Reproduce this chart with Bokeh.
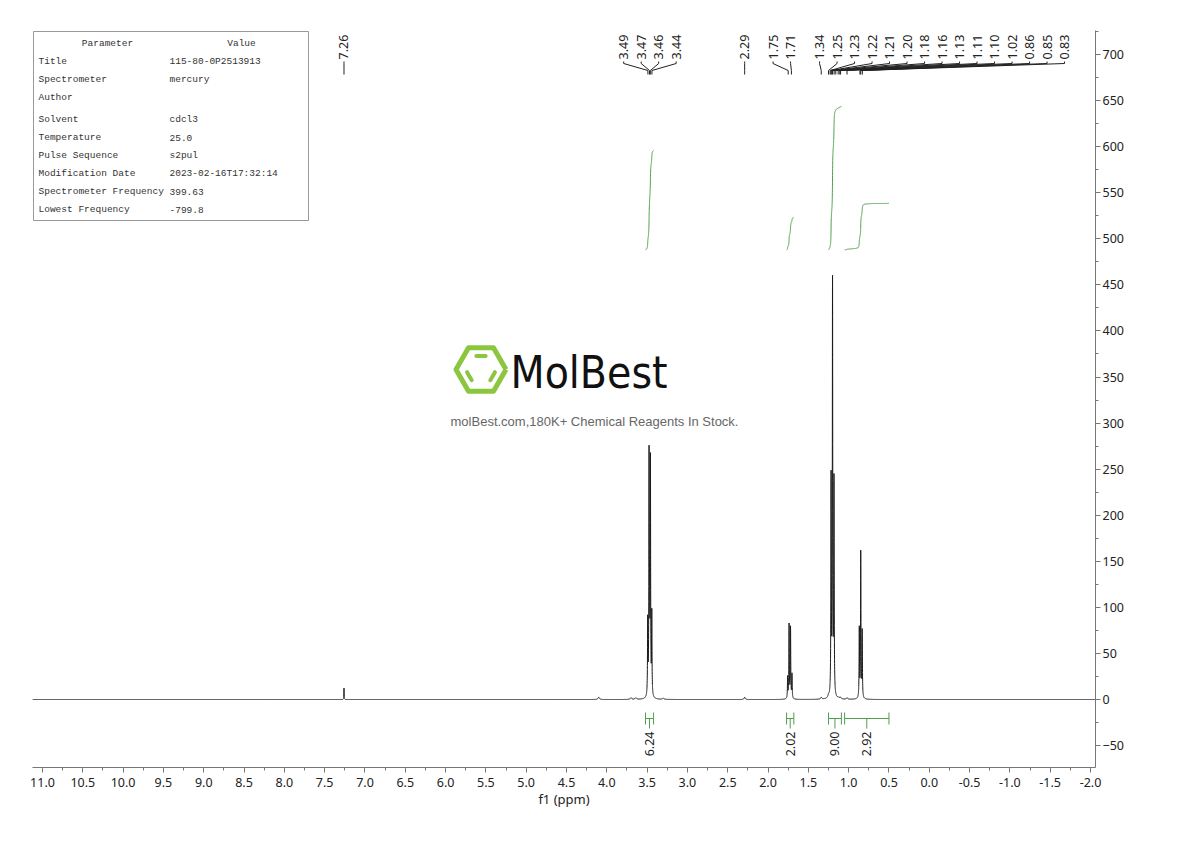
import numpy as np
from bokeh.plotting import figure
from bokeh.models import Range1d, SingleIntervalTicker, PrintfTickFormatter
from bokeh.core.properties import value
from bokeh.embed import file_html
from bokeh.resources import INLINE

# ---------------- data ----------------
# peak table of the 1H spectrum: shift (ppm), observed height, half width (ppm)
peak_ppm = [7.26, 4.10, 3.70, 3.64, 3.4925, 3.476, 3.470, 3.459, 3.442, 3.30, 2.29,
            1.757, 1.739, 1.721, 1.703, 1.34, 1.25, 1.23, 1.218, 1.200, 1.182,
            1.16, 1.13, 1.11, 1.10, 1.02, 0.868, 0.850, 0.832]
peak_height = [12.5, 2.5, 2.0, 2.0, 92, 276, 143, 268, 99, 1.5, 2.5,
               26, 83, 80, 29, 2.5, 6, 10, 247, 460, 245,
               6, 3, 2.5, 2.5, 2.0, 80, 162, 77]
peak_hwhm = [0.002, 0.01, 0.01, 0.01, 0.003, 0.003, 0.003, 0.003, 0.003, 0.01, 0.008,
             0.003, 0.003, 0.003, 0.003, 0.008, 0.008, 0.006, 0.003, 0.003, 0.003,
             0.006, 0.008, 0.008, 0.008, 0.008, 0.003, 0.003, 0.003]

# peak labels (top), grouped as in the picture
label_groups = [["7.26"], ["3.49", "3.47", "3.46", "3.44"], ["2.29"], ["1.75", "1.71"],
                ["1.34", "1.25", "1.23", "1.22", "1.21", "1.20", "1.18", "1.16", "1.13",
                 "1.11", "1.10", "1.02", "0.86", "0.85", "0.83"]]

# integrals: range start/end (ppm) and value
int_from = [3.52, 1.77, 1.25, 1.05]
int_to = [3.42, 1.68, 1.09, 0.50]
int_value = [6.24, 2.02, 9.00, 2.92]

# parameter table
param_names = ["Title", "Spectrometer", "Author", "Solvent", "Temperature", "Pulse Sequence",
               "Modification Date", "Spectrometer Frequency", "Lowest Frequency"]
param_values = ["115-80-0P2513913", "mercury", "", "cdcl3", "25.0", "s2pul",
                "2023-02-16T17:32:14", "399.63", "-799.8"]

# ---------------- layout helpers ----------------
FRAME_W, FRAME_H = 1063, 737
X_START, X_END = 11.124, -2.062
Y_START, Y_END = -73.8, 726.1
PX_PER_PPM = FRAME_W / (X_START - X_END)


def px2x(px):
    return X_START + (X_END - X_START) * px / FRAME_W


def py2y(py):
    return Y_END - (Y_END - Y_START) * py / FRAME_H


def ppm2px(v):
    return (X_START - v) * PX_PER_PPM


# ---------------- spectrum from the peak table ----------------
pc = np.array(peak_ppm)
ph = np.array(peak_height, dtype=float)
pw = np.array(peak_hwhm)
L = pw[None, :] ** 2 / ((pc[:, None] - pc[None, :]) ** 2 + pw[None, :] ** 2)
amp = np.clip(np.linalg.solve(L, ph), 0, None)

xs = np.unique(np.concatenate([np.arange(X_END, X_START, 0.0005), pc]))[::-1]
spec = np.zeros_like(xs)
for c, a, w in zip(pc, amp, pw):
    spec += a * w ** 2 / ((xs - c) ** 2 + w ** 2)

FONT = value("Noto Sans")
TXT = "#222222"
GREEN = "#4e9f4e"

p = figure(frame_width=FRAME_W, frame_height=FRAME_H,
           x_range=Range1d(X_START, X_END), y_range=Range1d(Y_START, Y_END),
           y_axis_location="right", output_backend="svg", toolbar_location=None,
           min_border_left=32, min_border_top=30, min_border_right=10, min_border_bottom=4)
p.outline_line_color = None
p.grid.visible = False

for ax in (p.xaxis, p.yaxis):
    ax.axis_line_color = "#777777"
    ax.major_tick_line_color = "#777777"
    ax.minor_tick_line_color = "#777777"
    ax.major_tick_in = 0
    ax.major_tick_out = 5
    ax.minor_tick_in = 0
    ax.minor_tick_out = 3
    ax.major_label_text_font = "Noto Sans"
    ax.major_label_text_font_size = "12.5px"
    ax.major_label_text_color = TXT

p.xaxis.ticker = SingleIntervalTicker(interval=0.5, num_minor_ticks=2)
p.xaxis.formatter = PrintfTickFormatter(format="%.1f")
p.xaxis.major_label_standoff = 5
p.xaxis.axis_label = "f1 (ppm)"
p.xaxis.axis_label_text_font = "Noto Sans"
p.xaxis.axis_label_text_font_size = "13px"
p.xaxis.axis_label_text_font_style = "normal"
p.xaxis.axis_label_text_color = TXT
p.xaxis.axis_label_standoff = 0
p.yaxis.ticker = SingleIntervalTicker(interval=50, num_minor_ticks=2)
p.yaxis.major_label_standoff = 2

# spectrum
p.line(xs, spec, line_color="#1a1a1a", line_width=1)

# integral curves
K_INT = 17.3
BASE = 488
for a, b, v in zip(int_from, int_to, int_value):
    m = (xs <= a) & (xs >= b)
    seg_x = xs[m]
    cum = np.cumsum(spec[m])
    p.line(seg_x, BASE + cum / cum[-1] * v * K_INT, line_color=GREEN, line_width=1)

# integral bars at the bottom
y_bar, y_cap0, y_cap1, y_tick = py2y(688), py2y(682), py2y(694), py2y(698)
bar_xs, bar_ys = [], []
for a, b in zip(int_from, int_to):
    mid = (a + b) / 2
    bar_xs += [[a, b], [a, a], [b, b], [mid, mid]]
    bar_ys += [[y_bar, y_bar], [y_cap0, y_cap1], [y_cap0, y_cap1], [y_bar, y_tick]]
p.multi_line(bar_xs, bar_ys, line_color=GREEN, line_width=1)
p.text(x=[(a + b) / 2 for a, b in zip(int_from, int_to)], y=[py2y(701)] * len(int_value),
       text=[f"{v:.2f}" for v in int_value], angle=np.pi / 2, text_align="right",
       text_baseline="middle", text_font=FONT, text_font_size="12.5px", text_color=TXT)

# peak labels at the top
SP = 17.5
GROUP_GAP = 21
SHIFT_BACK = 8  # a group squeezed by the next one moves a little to the left
lab_px, lab_txt, lab_val, lab_grp = [], [], [], []
prev = -1e9
for gi, g in enumerate(label_groups):
    vals = [float(s) for s in g]
    c = np.mean([ppm2px(v) for v in vals])
    n = len(vals)
    for i, (s, v) in enumerate(zip(g, vals)):
        ideal = c + (i - (n - 1) / 2) * SP
        gap = GROUP_GAP if i == 0 else SP
        pos = max(ideal, prev + gap)
        if i == 0 and pos > ideal + 2 * SP and lab_grp:
            for j in range(len(lab_px)):
                if lab_grp[j] == gi - 1:
                    lab_px[j] -= SHIFT_BACK
        lab_px.append(pos)
        lab_txt.append(s)
        lab_val.append(v)
        lab_grp.append(gi)
        prev = pos

con_xs, con_ys = [], []
for lp, v in zip(lab_px, lab_val):
    lx = px2x(lp)
    con_xs.append([lx, lx, v, v])
    con_ys.append([py2y(31), py2y(33), py2y(40), py2y(44)])
p.multi_line(con_xs, con_ys, line_color="#222222", line_width=1)
p.text(x=[px2x(lp) for lp in lab_px], y=[py2y(29)] * len(lab_px), text=lab_txt,
       angle=np.pi / 2, text_align="left", text_baseline="middle", text_font=FONT,
       text_font_size="12.5px", text_color=TXT)

# parameter table
p.quad(left=[px2x(1)], right=[px2x(276)], top=[py2y(1)], bottom=[py2y(190)],
       fill_color="white", line_color="#999999", line_width=1)
row_py = []
yy = 31
for i in range(len(param_names)):
    row_py.append(yy)
    yy += 22 if i == 2 else 18
TFONT = value("Liberation Mono")
TSIZE = "9.5px"
p.text(x=[px2x(75), px2x(209)], y=[py2y(13)] * 2, text=["Parameter", "Value"],
       text_align="center", text_baseline="middle", text_font=TFONT,
       text_font_size=TSIZE, text_color="#333333")
p.text(x=[px2x(6)] * len(param_names), y=[py2y(r) for r in row_py], text=param_names,
       text_align="left", text_baseline="middle", text_font=TFONT,
       text_font_size=TSIZE, text_color="#333333")
p.text(x=[px2x(137)] * len(param_values), y=[py2y(r) for r in row_py], text=param_values,
       text_align="left", text_baseline="middle", text_font=TFONT,
       text_font_size=TSIZE, text_color="#333333")

# watermark logo
cx, cy, R = 448.5, 339.0, 25.0
ang = np.deg2rad(np.arange(0, 361, 60))
p.line([px2x(cx + R * np.cos(t)) for t in ang], [py2y(cy - R * np.sin(t)) for t in ang],
       line_color="#8cc63f", line_width=5, line_join="round")
inner_xs, inner_ys = [], []
r_in = 0.62 * R
for k0 in (1, 3, 5):
    t0, t1 = np.deg2rad(60 * k0), np.deg2rad(60 * (k0 + 1))
    x0, y0 = r_in * np.cos(t0), r_in * np.sin(t0)
    x1, y1 = r_in * np.cos(t1), r_in * np.sin(t1)
    pts = [(x0 + (x1 - x0) * f, y0 + (y1 - y0) * f) for f in (0.2, 0.8)]
    inner_xs.append([px2x(cx + q[0]) for q in pts])
    inner_ys.append([py2y(cy - q[1]) for q in pts])
p.multi_line(inner_xs, inner_ys, line_color="#8cc63f", line_width=4, line_cap="round")
p.text(x=[px2x(478)], y=[py2y(342)], text=["MolBest"], text_align="left",
       text_baseline="middle", text_font=value("DejaVu Sans Condensed"),
       text_font_size="44px", text_color="#111111")
p.text(x=[px2x(562)], y=[py2y(391)], text=["molBest.com,180K+ Chemical Reagents In Stock."],
       text_align="center", text_baseline="middle", text_font=value("Liberation Sans"),
       text_font_size="13px", text_color="#666666")

open("out.html", "w").write(file_html(p, INLINE))
